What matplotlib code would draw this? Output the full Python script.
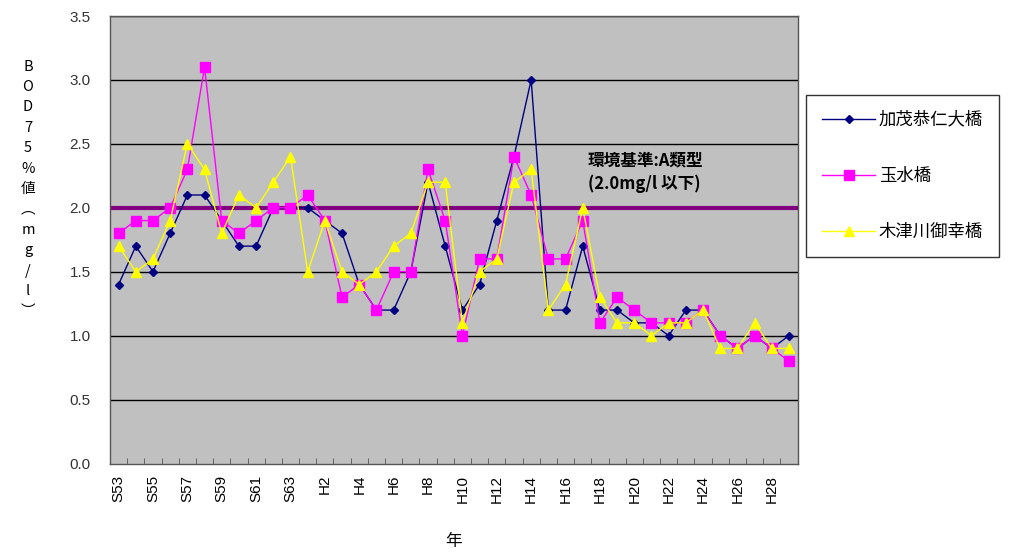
import numpy as np
import matplotlib.pyplot as plt
from matplotlib.lines import Line2D

plt.rcParams['font.family'] = ['Noto Sans CJK JP', 'DejaVu Sans']

# Years: S53-S63, H1-H29
years = [f'S{n}' for n in range(53, 64)] + [f'H{n}' for n in range(1, 30)]

kamo = [1.4, 1.7, 1.5, 1.8, 2.1, 2.1, 1.9, 1.7, 1.7, 2.0,
        2.0, 2.0, 1.9, 1.8, 1.4, 1.2, 1.2, 1.5, 2.2, 1.7,
        1.2, 1.4, 1.9, 2.4, 3.0, 1.2, 1.2, 1.7, 1.2, 1.2,
        1.1, 1.1, 1.0, 1.2, 1.2, 1.0, 0.9, 1.0, 0.9, 1.0]
tamamizu = [1.8, 1.9, 1.9, 2.0, 2.3, 3.1, 1.9, 1.8, 1.9, 2.0,
            2.0, 2.1, 1.9, 1.3, 1.4, 1.2, 1.5, 1.5, 2.3, 1.9,
            1.0, 1.6, 1.6, 2.4, 2.1, 1.6, 1.6, 1.9, 1.1, 1.3,
            1.2, 1.1, 1.1, 1.1, 1.2, 1.0, 0.9, 1.0, 0.9, 0.8]
kizu = [1.7, 1.5, 1.6, 1.9, 2.5, 2.3, 1.8, 2.1, 2.0, 2.2,
        2.4, 1.5, 1.9, 1.5, 1.4, 1.5, 1.7, 1.8, 2.2, 2.2,
        1.1, 1.5, 1.6, 2.2, 2.3, 1.2, 1.4, 2.0, 1.3, 1.1,
        1.1, 1.0, 1.1, 1.1, 1.2, 0.9, 0.9, 1.1, 0.9, 0.9]
standard = 2.0

x = np.arange(len(years))

fig = plt.figure(figsize=(10.22, 5.57), dpi=100)
fig.patch.set_facecolor('white')
ax = fig.add_axes([110/1022, 1 - 463.5/557, 687.6/1022, 447.5/557])
ax.set_facecolor('#C0C0C0')

# gridlines
for yv in np.arange(0.5, 3.51, 0.5):
    ax.axhline(yv, color='black', linewidth=1.0, zorder=1)

# environmental standard line
ax.axhline(standard, color='#800080', linewidth=3.0, zorder=2)

ax.plot(x, kamo, color='#000080', marker='D', markersize=4.5, linewidth=1.0,
        label='加茂恭仁大橋', zorder=3)
ax.plot(x, tamamizu, color='#FF00FF', marker='s', markersize=6.5, linewidth=1.0,
        label='玉水橋', zorder=4)
ax.plot(x, kizu, color='#FFFF00', marker='^', markersize=7, linewidth=1.0,
        label='木津川御幸橋', zorder=5)

ax.text(27.3, 2.28, '環境基準:A類型\n(2.0mg/l 以下)', fontsize=12,
        fontweight='bold', va='center', ha='left', linespacing=1.35, zorder=6)

ax.set_xlim(-0.5, len(years) - 0.5)
ax.set_ylim(0, 3.5)
ax.set_yticks(np.arange(0, 3.51, 0.5))
ax.set_yticklabels([f'{v:.1f}' for v in np.arange(0, 3.51, 0.5)], fontsize=11,
                   color='#333333', family='Liberation Sans')
ax.set_xticks(x[::2])
ax.set_xticklabels(years[::2], rotation=90, fontsize=11, family='Liberation Sans')
ax.set_xticks(np.arange(-0.5, len(years), 1.0), minor=True)
ax.tick_params(axis='x', which='major', length=0, pad=8)
ax.tick_params(axis='x', which='minor', direction='in', length=4, color='#555555')
ax.tick_params(axis='y', length=0, pad=14)

for s in ax.spines.values():
    s.set_color('#555555')
    s.set_linewidth(1.0)

ax.set_xlabel('年', fontsize=12, labelpad=22)

fig.text(28/1022, 1 - 189/557, 'B\nO\nD\n7\n5\n%\n値\n︵\nm\ng\n/\nl\n︶',
         fontsize=10.5, ha='center', va='center', linespacing=1.58)

handles = [
    Line2D([], [], color='#000080', marker='D', markersize=4.5, linewidth=1.0),
    Line2D([], [], color='#FF00FF', marker='s', markersize=6.5, linewidth=1.0),
    Line2D([], [], color='#FFFF00', marker='^', markersize=7, linewidth=1.0),
]
leg = ax.legend(handles, ['加茂恭仁大橋', '玉水橋', '木津川御幸橋'],
                loc='upper left', bbox_to_anchor=(806/1022, 1 - 95/557),
                bbox_transform=fig.transFigure, fontsize=12.5, frameon=True,
                fancybox=False, labelspacing=2.2, handlelength=3.1,
                handletextpad=0.2, borderpad=0.9, borderaxespad=0)
leg.get_frame().set_edgecolor('black')
leg.get_frame().set_linewidth(1.0)

plt.savefig('out.png', dpi=100, facecolor='white')
